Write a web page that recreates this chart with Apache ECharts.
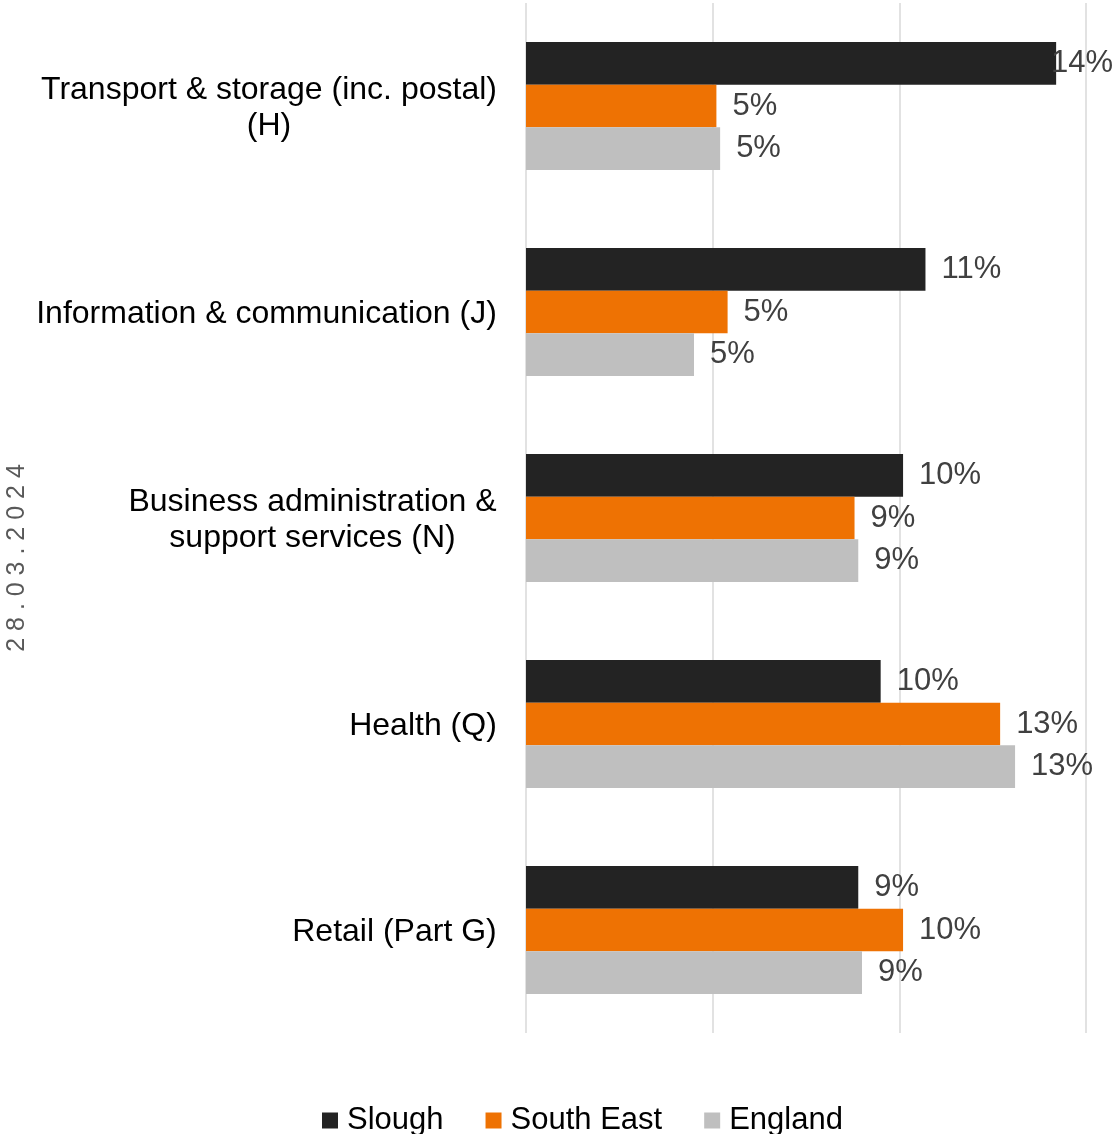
<!DOCTYPE html>
<html>
<head>
<meta charset="utf-8">
<script src="https://cdn.jsdelivr.net/npm/echarts@6/dist/echarts.min.js"></script>
<style>
html,body{margin:0;padding:0;background:#fff;}
#c{width:1115px;height:1134px;}
</style>
</head>
<body>
<div id="c"></div>
<script>
const categories = ['Transport & storage (inc. postal)\n(H)', 'Information & communication (J)', 'Business administration &\nsupport services (N)', 'Health (Q)', 'Retail (Part G)'];
const seriesNames = ['Slough', 'South East', 'England'];
const slough = [14.2, 10.7, 10.1, 9.5, 8.9];
const southEast = [5.1, 5.4, 8.8, 12.7, 10.1];
const england = [5.2, 4.5, 8.9, 13.1, 9.0];
const xTicks = [0, 5, 10, 15];
const dateText = '2 8 . 0 3 . 2 0 2 4';

const colors = ['#232323', '#EE7203', '#BFBFBF'];
const values = [slough, southEast, england];

const font = 'Liberation Sans, Arial, sans-serif';
const catFontSize = 32;

// measure widest line of each category label so multi-line labels can be centred within their block
const ctx = document.createElement('canvas').getContext('2d');
ctx.font = catFontSize + 'px ' + font;
const rich = {};
categories.forEach((c, i) => {
  const w = Math.max(...c.split('\n').map(s => ctx.measureText(s).width));
  rich['c' + i] = { width: Math.ceil(w), align: 'center', fontSize: catFontSize, lineHeight: 36, color: '#000', fontFamily: font };
});

const chart = echarts.init(document.getElementById('c'));

const series = seriesNames.map((n, i) => ({
  name: n,
  type: 'bar',
  data: values[i],
  barWidth: 42.7,
  barGap: '0%',
  itemStyle: { color: colors[i] },
  label: {
    show: true,
    position: 'right',
    distance: 16,
    offset: [0, 3],
    fontSize: 31,
    fontFamily: font,
    color: '#404040',
    formatter: p => Math.round(p.value) + '%'
  },
  labelLayout: function (p) {
    const W = chart.getWidth();
    const over = p.labelRect.x + p.labelRect.width - (W - 2);
    if (over > 0) {
      return { dx: -over };
    }
  }
}));

chart.setOption({
  animation: false,
  textStyle: { fontFamily: font },
  grid: { left: 526, right: 29, top: 3, bottom: 101, containLabel: false },
  xAxis: {
    type: 'value',
    min: xTicks[0],
    max: xTicks[xTicks.length - 1],
    interval: xTicks[1] - xTicks[0],
    axisLabel: { show: false },
    axisLine: { show: false },
    axisTick: { show: false },
    splitLine: { show: true, lineStyle: { color: '#D9D9D9', width: 1.5 } }
  },
  yAxis: {
    type: 'category',
    inverse: true,
    data: categories,
    axisLine: { show: false },
    axisTick: { show: false },
    axisLabel: {
      fontSize: catFontSize,
      color: '#000',
      margin: 29,
      lineHeight: 36,
      align: 'right',
      fontFamily: font,
      padding: [4, 0, 0, 0],
      formatter: function (v, idx) {
        return v.split('\n').map(s => '{c' + idx + '|' + s + '}').join('\n');
      },
      rich: rich
    }
  },
  legend: {
    data: seriesNames,
    top: 1105,
    left: 322,
    padding: 0,
    itemWidth: 16,
    itemHeight: 16,
    itemGap: 42,
    icon: 'rect',
    textStyle: { fontSize: 31, color: '#000', fontFamily: font, padding: [0, 0, 0, 4] }
  },
  graphic: [{
    type: 'text',
    x: 17,
    y: 558,
    rotation: Math.PI / 2,
    style: {
      text: dateText,
      fontSize: 25,
      fontFamily: font,
      fill: '#595959',
      textAlign: 'center',
      textVerticalAlign: 'middle'
    }
  }],
  series: series
});
</script>
</body>
</html>
